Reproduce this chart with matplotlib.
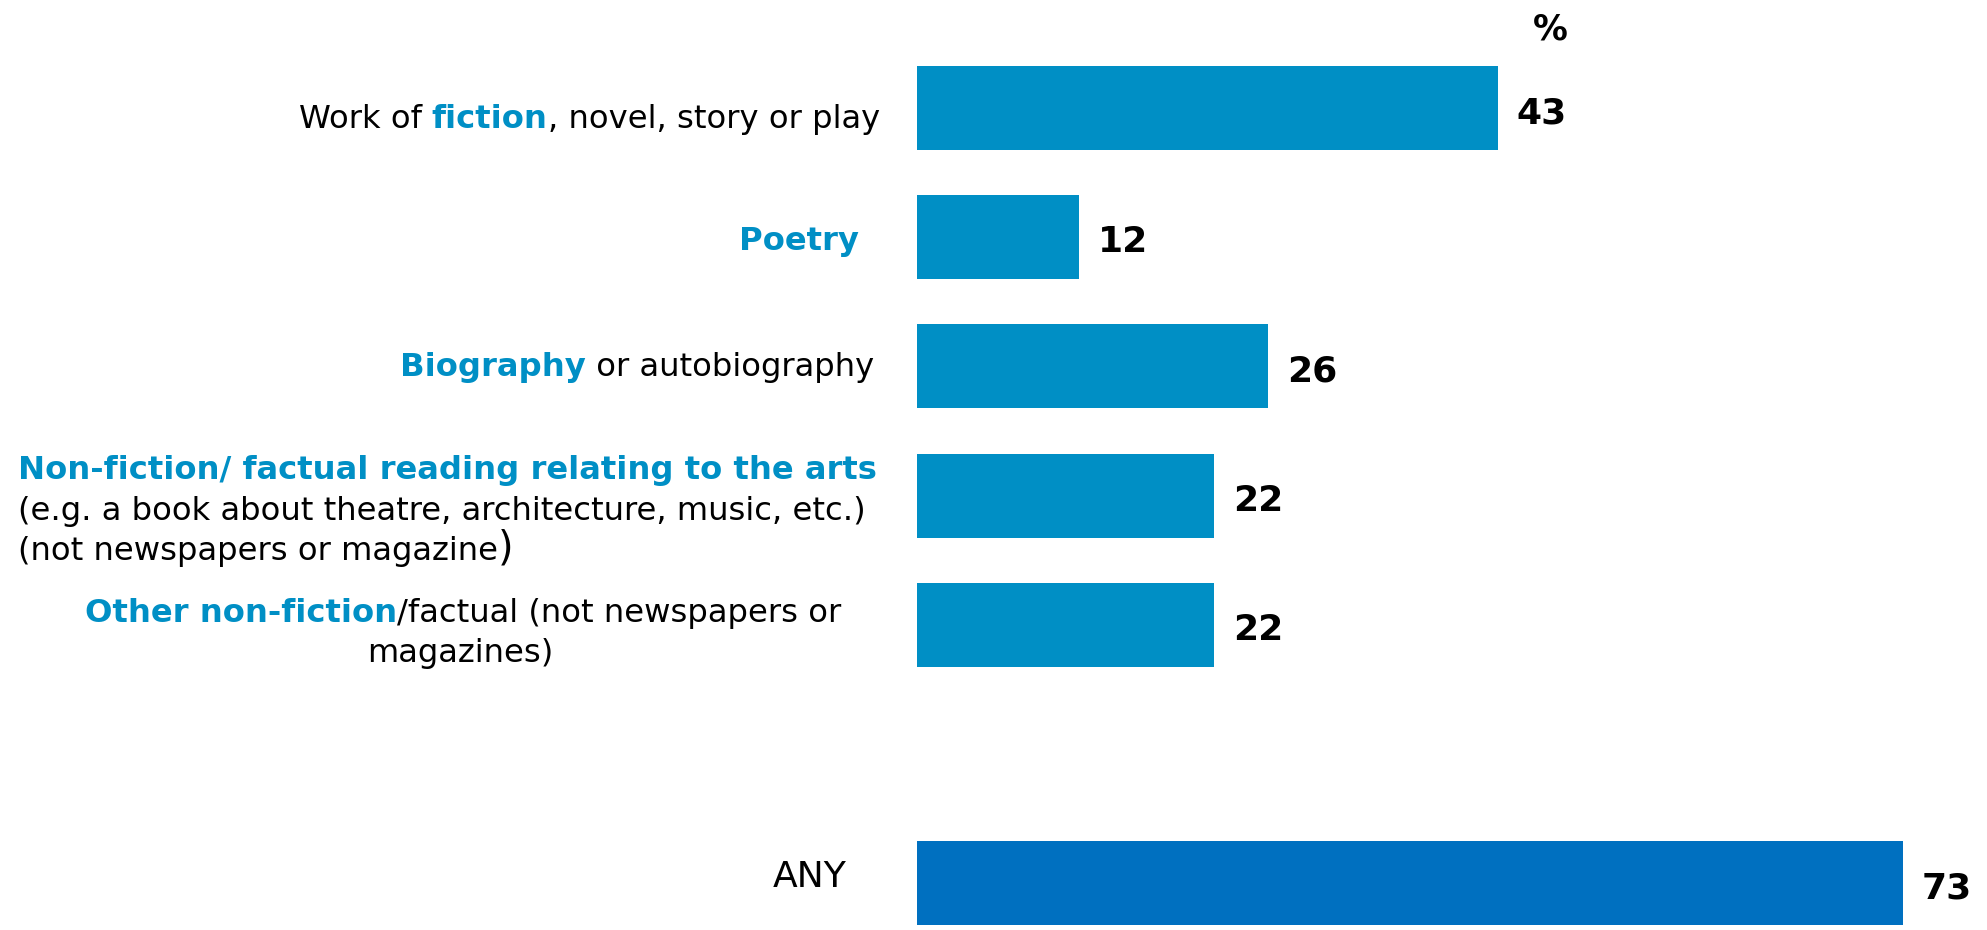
import matplotlib
matplotlib.use('Agg')
import matplotlib.pyplot as plt
import matplotlib.transforms as mtransforms

# Types of book read in the last 12 months (%)
categories = ['fiction', 'poetry', 'biography', 'arts', 'other', 'any']
values = [43, 12, 26, 22, 22, 73]
positions = [0, 1, 2, 3, 4, 6]

BLUE = '#008FC5'
DARK_BLUE = '#0070C0'
bar_colors = [BLUE, BLUE, BLUE, BLUE, BLUE, DARK_BLUE]

# label text pieces: (text, bold/blue?)
label_lines = {
    'fiction': [[('Work of ', False), ('fiction', True), (', novel, story or play', False)]],
    'poetry': [[('Poetry', True)]],
    'biography': [[('Biography', True), (' or autobiography', False)]],
    'arts': [[('Non-fiction/ factual reading relating to the arts', True)],
             [('(e.g. a book about theatre, architecture, music, etc.)', False)],
             [('(not newspapers or magazine', False), (')', 'big')]],
    'other': [[('Other non-fiction', True), ('/factual (not newspapers or', False)],
              [('magazines)', False)]],
    'any': [[('ANY', 'any')]],
}

plt.rcParams['font.family'] = 'DejaVu Sans'
W, H = 1987, 930
fig = plt.figure(figsize=(W / 100, H / 100), dpi=100)
ax = fig.add_axes([917 / W, 0, 78 * 13.51 / W, 1])
ax.barh(positions, values, height=0.65, color=bar_colors)
ax.set_xlim(0, 78)
ax.set_ylim(6.362, -0.836)
ax.axis('off')

for p, v in zip(positions, values):
    ax.annotate(str(v), xy=(v, p), xytext=(13.5, -11), textcoords='offset points',
                ha='left', va='baseline', fontsize=26, fontweight='bold', color='black')

fig.text(1550 / W, 1 - 40 / H, '%', ha='center', va='baseline',
         fontsize=25, fontweight='bold', color='black')

trans = mtransforms.blended_transform_factory(fig.transFigure, ax.transData)
FS = 23.2
BIG = 1.25


def style(kind):
    if kind is True:
        return dict(fontsize=FS, fontweight='bold', color=BLUE)
    if kind == 'big':
        return dict(fontsize=FS * BIG, color='black')
    if kind == 'any':
        return dict(fontsize=26, color='black')
    return dict(fontsize=FS, color='black')


def rich_line(x, y, pieces, align):
    # chain text pieces so mixed styles share one baseline
    if align == 'right':
        txt, kind = pieces[-1]
        prev = ax.text(x, y, txt, transform=trans, ha='right', va='baseline', **style(kind))
        for txt, kind in reversed(pieces[:-1]):
            prev = ax.annotate(txt, xy=(0, 0), xycoords=prev, ha='right', va='bottom', **style(kind))
    else:
        txt, kind = pieces[0]
        prev = ax.text(x, y, txt, transform=trans, ha=align, va='baseline', **style(kind))
        for txt, kind in pieces[1:]:
            # larger glyphs have a deeper descent; drop them back onto the baseline
            dy = -(BIG - 1) * FS * 0.24 if kind == 'big' else 0
            prev = ax.annotate(txt, xy=(1, 0), xycoords=prev, xytext=(0, dy),
                               textcoords='offset points', ha='left', va='bottom', **style(kind))


# (x in figure px, alignment, baseline offsets per line in bar units)
label_layout = {
    'fiction': (880, 'right', [0.155]),
    'poetry': (859, 'right', [0.096]),
    'biography': (874, 'right', [0.074]),
    'arts': (18, 'left', [-0.128, 0.186, 0.498]),
    'other': (85, 'left', [-0.022]),
    'any': (810, 'center', [0.029]),
}

for cat, p in zip(categories, positions):
    x, align, offs = label_layout[cat]
    for line, off in zip(label_lines[cat], offs):
        rich_line(x / W, p + off, line, align)

# second line of the "other" label, centred under the first
rich_line(460 / W, 4 + 0.284, label_lines['other'][1], 'center')

fig.savefig('out.png', dpi=100)
